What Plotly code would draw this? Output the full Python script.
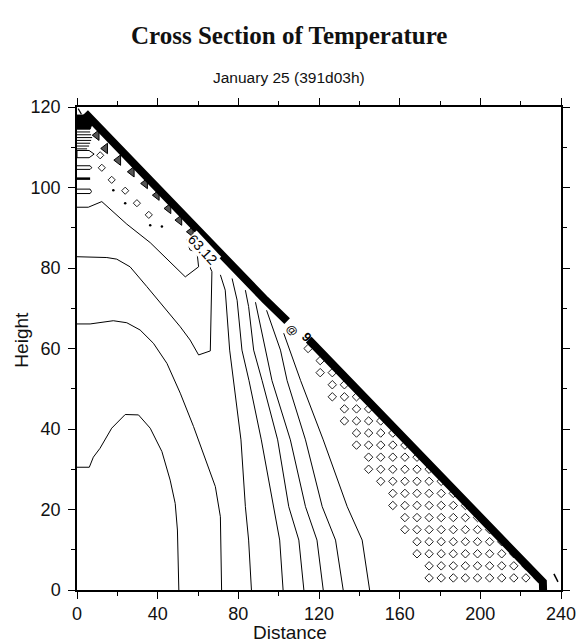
import plotly.graph_objects as go

# ---------------- data ----------------
# contour lines (Distance, Height)
A_x = [0, 6.1, 8.1, 11.4, 17.2, 23.9, 30.5, 36.3, 42.1, 46.2, 48.7, 49.8, 50.5]
A_y = [30.5, 30.5, 33, 35.2, 40.2, 43.6, 43.5, 40.2, 34.4, 27.3, 21.5, 14.9, 0]
B_x = [0, 6.5, 18, 24.7, 31.3, 37.9, 44.6, 51.2, 57.8, 64.4, 68.6, 71.1, 71.7]
B_y = [66.1, 66.1, 66.9, 66.4, 64.6, 61.3, 56.3, 48.9, 40.6, 31.5, 25.7, 18.2, 0]
C_x = [0, 14.8, 19.7, 26.3, 34.6, 42.9, 51.2, 56.1, 60.3, 66.1, 66.4, 66.9, 66.9, 64.7]
C_y = [82.8, 82.6, 82.2, 80.3, 75.4, 70.4, 65.4, 62.1, 58.4, 59.4, 67.0, 76.0, 79.1, 81.6]
D_x = [0, 5.6, 12.3, 24.7, 36.3, 53.7, 60.3, 59.5, 56.0, 54.5]
D_y = [95.1, 95.1, 96.5, 90.9, 86.3, 77.8, 80.3, 84.0, 84.5, 87.0]
E1_x = [71.1, 73.5, 75.7, 77.7, 81.3, 83.5, 85.1, 86.5]
E1_y = [78.3, 74.5, 59.6, 52.0, 37.3, 20.7, 12.4, 0]
E2_x = [76.9, 79.4, 81.8, 85.3, 91.4, 97.4, 100.5, 102.2]
E2_y = [77.4, 72.0, 59.6, 52.0, 37.3, 20.7, 12.4, 0]
E3_x = [83.5, 85.1, 87.6, 91.8, 99.5, 105.0, 110.0, 112.5]
E3_y = [74.5, 70.4, 59.6, 52.0, 37.3, 20.7, 12.4, 0]
E4_x = [88.5, 93.4, 96.7, 105.8, 113.3, 119.0, 122.1]
E4_y = [71.5, 59.6, 52.0, 37.3, 20.7, 12.4, 0]
E5_x = [94.0, 100.9, 104.2, 113.3, 121.6, 128.2, 132.0]
E5_y = [69.5, 59.6, 52.0, 37.3, 20.7, 12.4, 0]
E6_x = [102.5, 110.9, 122.1, 134.0, 141.4, 145.1]
E6_y = [63.8, 52.0, 37.3, 20.7, 12.4, 0]
contours = [(A_x, A_y), (B_x, B_y), (C_x, C_y), (D_x, D_y), (E1_x, E1_y),
            (E2_x, E2_y), (E3_x, E3_y), (E4_x, E4_y), (E5_x, E5_y), (E6_x, E6_y)]

# dense contour band along the sloping boundary (two pieces, broken by a label)
band1_x = [4, 50, 93.5, 104.2]
band1_y = [118.5, 94.3, 72.0, 66.8]
band2_x = [114.9, 183, 231, 231.3]
band2_y = [62.2, 27.0, 2.0, -3]

# diamond grid rows: height, first and last Distance of the row
dia_row_y = [3, 6, 9, 12, 15, 18, 21, 24, 27, 30, 33, 36, 39, 42, 45, 48, 51, 54, 57, 60]
dia_row_x0 = [174.6, 174.6, 168.6, 168.6, 162.6, 162.6, 156.6, 156.6, 150.6, 144.6,
              144.6, 138.6, 138.6, 132.6, 132.6, 126.6, 126.6, 120.6, 120.6, 114.6]
dia_row_x1 = [228.6, 222.6, 216.6, 210.6, 204.6, 198.6, 192.6, 186.6, 180.6, 174.6,
              168.6, 162.6, 156.6, 150.6, 144.6, 138.6, 132.6, 126.6, 120.6, 114.6]
dia_dx = 6.0

# features in the upper-left corner
tri_x = [9.8, 14.0, 20.5, 27.2, 33.8, 39.6, 45.4, 50.8, 56.5]
tri_y = [113.0, 109.7, 106.8, 103.9, 101.0, 98.1, 94.8, 91.9, 89.0]
sdia_x = [11.5, 12.3, 17.2, 23.9, 29.7, 35.6]
sdia_y = [108.0, 104.9, 101.9, 99.2, 96.1, 93.2]
dot_x = [18.0, 23.9, 42.1, 36.3]
dot_y = [99.3, 96.1, 90.3, 90.6]
hatch_y = [109.6, 110.3, 111.0, 111.7, 112.4, 113.1, 113.8]
hatch_x1 = [5.0, 6.0, 6.5, 7.0, 7.5, 7.0, 6.5]
blk_x = [0, 6.5, 8, 6.5, 0]
blk_y = [114.5, 114.5, 116.5, 118, 118]
arrow_x = [0, 6, 8.5, 6, 0, 0]
arrow_y = [107.4, 107.4, 108.3, 109.2, 109.2, 107.4]
s1_x = [0, 6.5, 7.3, 6.5, 0]
s1_y = [104.5, 104.5, 104.9, 105.4, 105.4]
s2_x = [0, 6.5]
s2_y = [102.2, 102.2]
s3_x = [0, 6.5, 7.2, 6.5, 0]
s3_y = [98.5, 98.5, 99.0, 99.6, 99.6]
tick_x = [236.5, 238.5]
tick_y = [4.0, 2.0]
corner_x = [0.6, 2.2]
corner_y = [119.6, 118.2]

x_ticks = [0, 40, 80, 120, 160, 200, 240]
y_ticks = [0, 20, 40, 60, 80, 100, 120]

fig = go.Figure()
blk = "black"

for cx, cy in contours:
    fig.add_trace(go.Scatter(x=cx, y=cy, mode="lines", line=dict(color=blk, width=1)))

# diamond grid
dxs, dys = [], []
for ry, x0, x1 in zip(dia_row_y, dia_row_x0, dia_row_x1):
    x = x0
    while x <= x1 + 0.01:
        dxs.append(x)
        dys.append(ry)
        x += dia_dx
fig.add_trace(go.Scatter(x=dxs, y=dys, mode="markers",
                         marker=dict(symbol="diamond", size=6.5, color="white",
                                     line=dict(color="#222", width=1))))

# upper-left features
hx, hy = [], []
for yy, xe in zip(hatch_y, hatch_x1):
    hx += [0, xe, None]
    hy += [yy, yy, None]
fig.add_trace(go.Scatter(x=hx, y=hy, mode="lines", line=dict(color=blk, width=1)))
fig.add_trace(go.Scatter(x=blk_x, y=blk_y, mode="lines", fill="toself",
                         fillcolor=blk, line=dict(color=blk, width=1)))
for sx, sy in [(arrow_x, arrow_y), (s1_x, s1_y), (s3_x, s3_y)]:
    fig.add_trace(go.Scatter(x=sx, y=sy, mode="lines", line=dict(color=blk, width=1)))
fig.add_trace(go.Scatter(x=s2_x, y=s2_y, mode="lines", line=dict(color=blk, width=2.5)))
fig.add_trace(go.Scatter(x=sdia_x, y=sdia_y, mode="markers",
                         marker=dict(symbol="diamond-open", size=5.5, color="#222",
                                     line=dict(width=1))))
fig.add_trace(go.Scatter(x=dot_x, y=dot_y, mode="markers",
                         marker=dict(symbol="circle", size=2.5, color=blk)))
fig.add_trace(go.Scatter(x=tri_x, y=tri_y, mode="markers",
                         marker=dict(symbol="triangle-left", size=9, color="#555",
                                     line=dict(color=blk, width=1))))

# dense band
fig.add_trace(go.Scatter(x=band1_x, y=band1_y, mode="lines", line=dict(color=blk, width=8)))
fig.add_trace(go.Scatter(x=band2_x, y=band2_y, mode="lines", line=dict(color=blk, width=8)))
fig.add_trace(go.Scatter(x=tick_x, y=tick_y, mode="lines", line=dict(color=blk, width=1.5)))
fig.add_trace(go.Scatter(x=corner_x, y=corner_y, mode="lines", line=dict(color=blk, width=1.2)))

# contour labels
fig.add_annotation(x=62.0, y=84.6, text="63.12", showarrow=False, textangle=47,
                   bgcolor="white", borderpad=0,
                   font=dict(family="Liberation Sans, Arial", size=14, color=blk))
fig.add_annotation(x=106.8, y=64.6, text="<b>@</b>", showarrow=False, textangle=47,
                   font=dict(family="Liberation Sans, Arial", size=11, color=blk))
fig.add_annotation(x=113.6, y=62.9, text="<b>9</b>", showarrow=False, textangle=47,
                   font=dict(family="Liberation Sans, Arial", size=13, color=blk))

# titles
fig.add_annotation(xref="paper", yref="paper", x=0.438, y=1.149, text="<b>Cross Section of Temperature</b>",
                   showarrow=False, xanchor="center", yanchor="middle",
                   font=dict(family="Liberation Serif, Times New Roman", size=25, color="#111"))
fig.add_annotation(xref="paper", yref="paper", x=0.437, y=1.062, text="January 25 (391d03h)",
                   showarrow=False, xanchor="center", yanchor="middle",
                   font=dict(family="Liberation Sans, Arial", size=15.5, color="#111"))
fig.add_annotation(xref="paper", yref="paper", x=0.44, y=-0.087, text="Distance",
                   showarrow=False, xanchor="center", yanchor="middle",
                   font=dict(family="Liberation Sans, Arial", size=19, color="#111"))
fig.add_annotation(xref="paper", yref="paper", x=-0.114, y=0.518, text="Height", textangle=-90,
                   showarrow=False, xanchor="center", yanchor="middle",
                   font=dict(family="Liberation Sans, Arial", size=19, color="#111"))

axis_common = dict(showgrid=False, zeroline=False, showline=True, linecolor=blk, linewidth=1.5,
                   mirror="allticks", ticks="outside", ticklen=7, tickwidth=1.2, tickcolor=blk,
                   automargin=False,
                   tickfont=dict(family="Liberation Sans, Arial", size=18, color="#111"))
fig.update_xaxes(range=[0, 240], tickvals=x_ticks,
                 minor=dict(dtick=20, ticks="outside", ticklen=4, tickcolor=blk, showgrid=False),
                 **axis_common)
fig.update_yaxes(range=[0, 120], tickvals=y_ticks, ticklabelstandoff=4,
                 minor=dict(dtick=10, ticks="outside", ticklen=4, tickcolor=blk, showgrid=False),
                 **axis_common)
fig.update_traces(showlegend=False, hoverinfo="skip")
fig.update_layout(width=577, height=643, margin=dict(l=77, r=16, t=107, b=53),
                  plot_bgcolor="white", paper_bgcolor="white", showlegend=False)

# remove the default 8px page margin so the figure fills the window exactly
fig.write_html("out.html", config={"displayModeBar": False},
               post_script="document.body.style.margin='0px';document.body.style.overflow='hidden';")
